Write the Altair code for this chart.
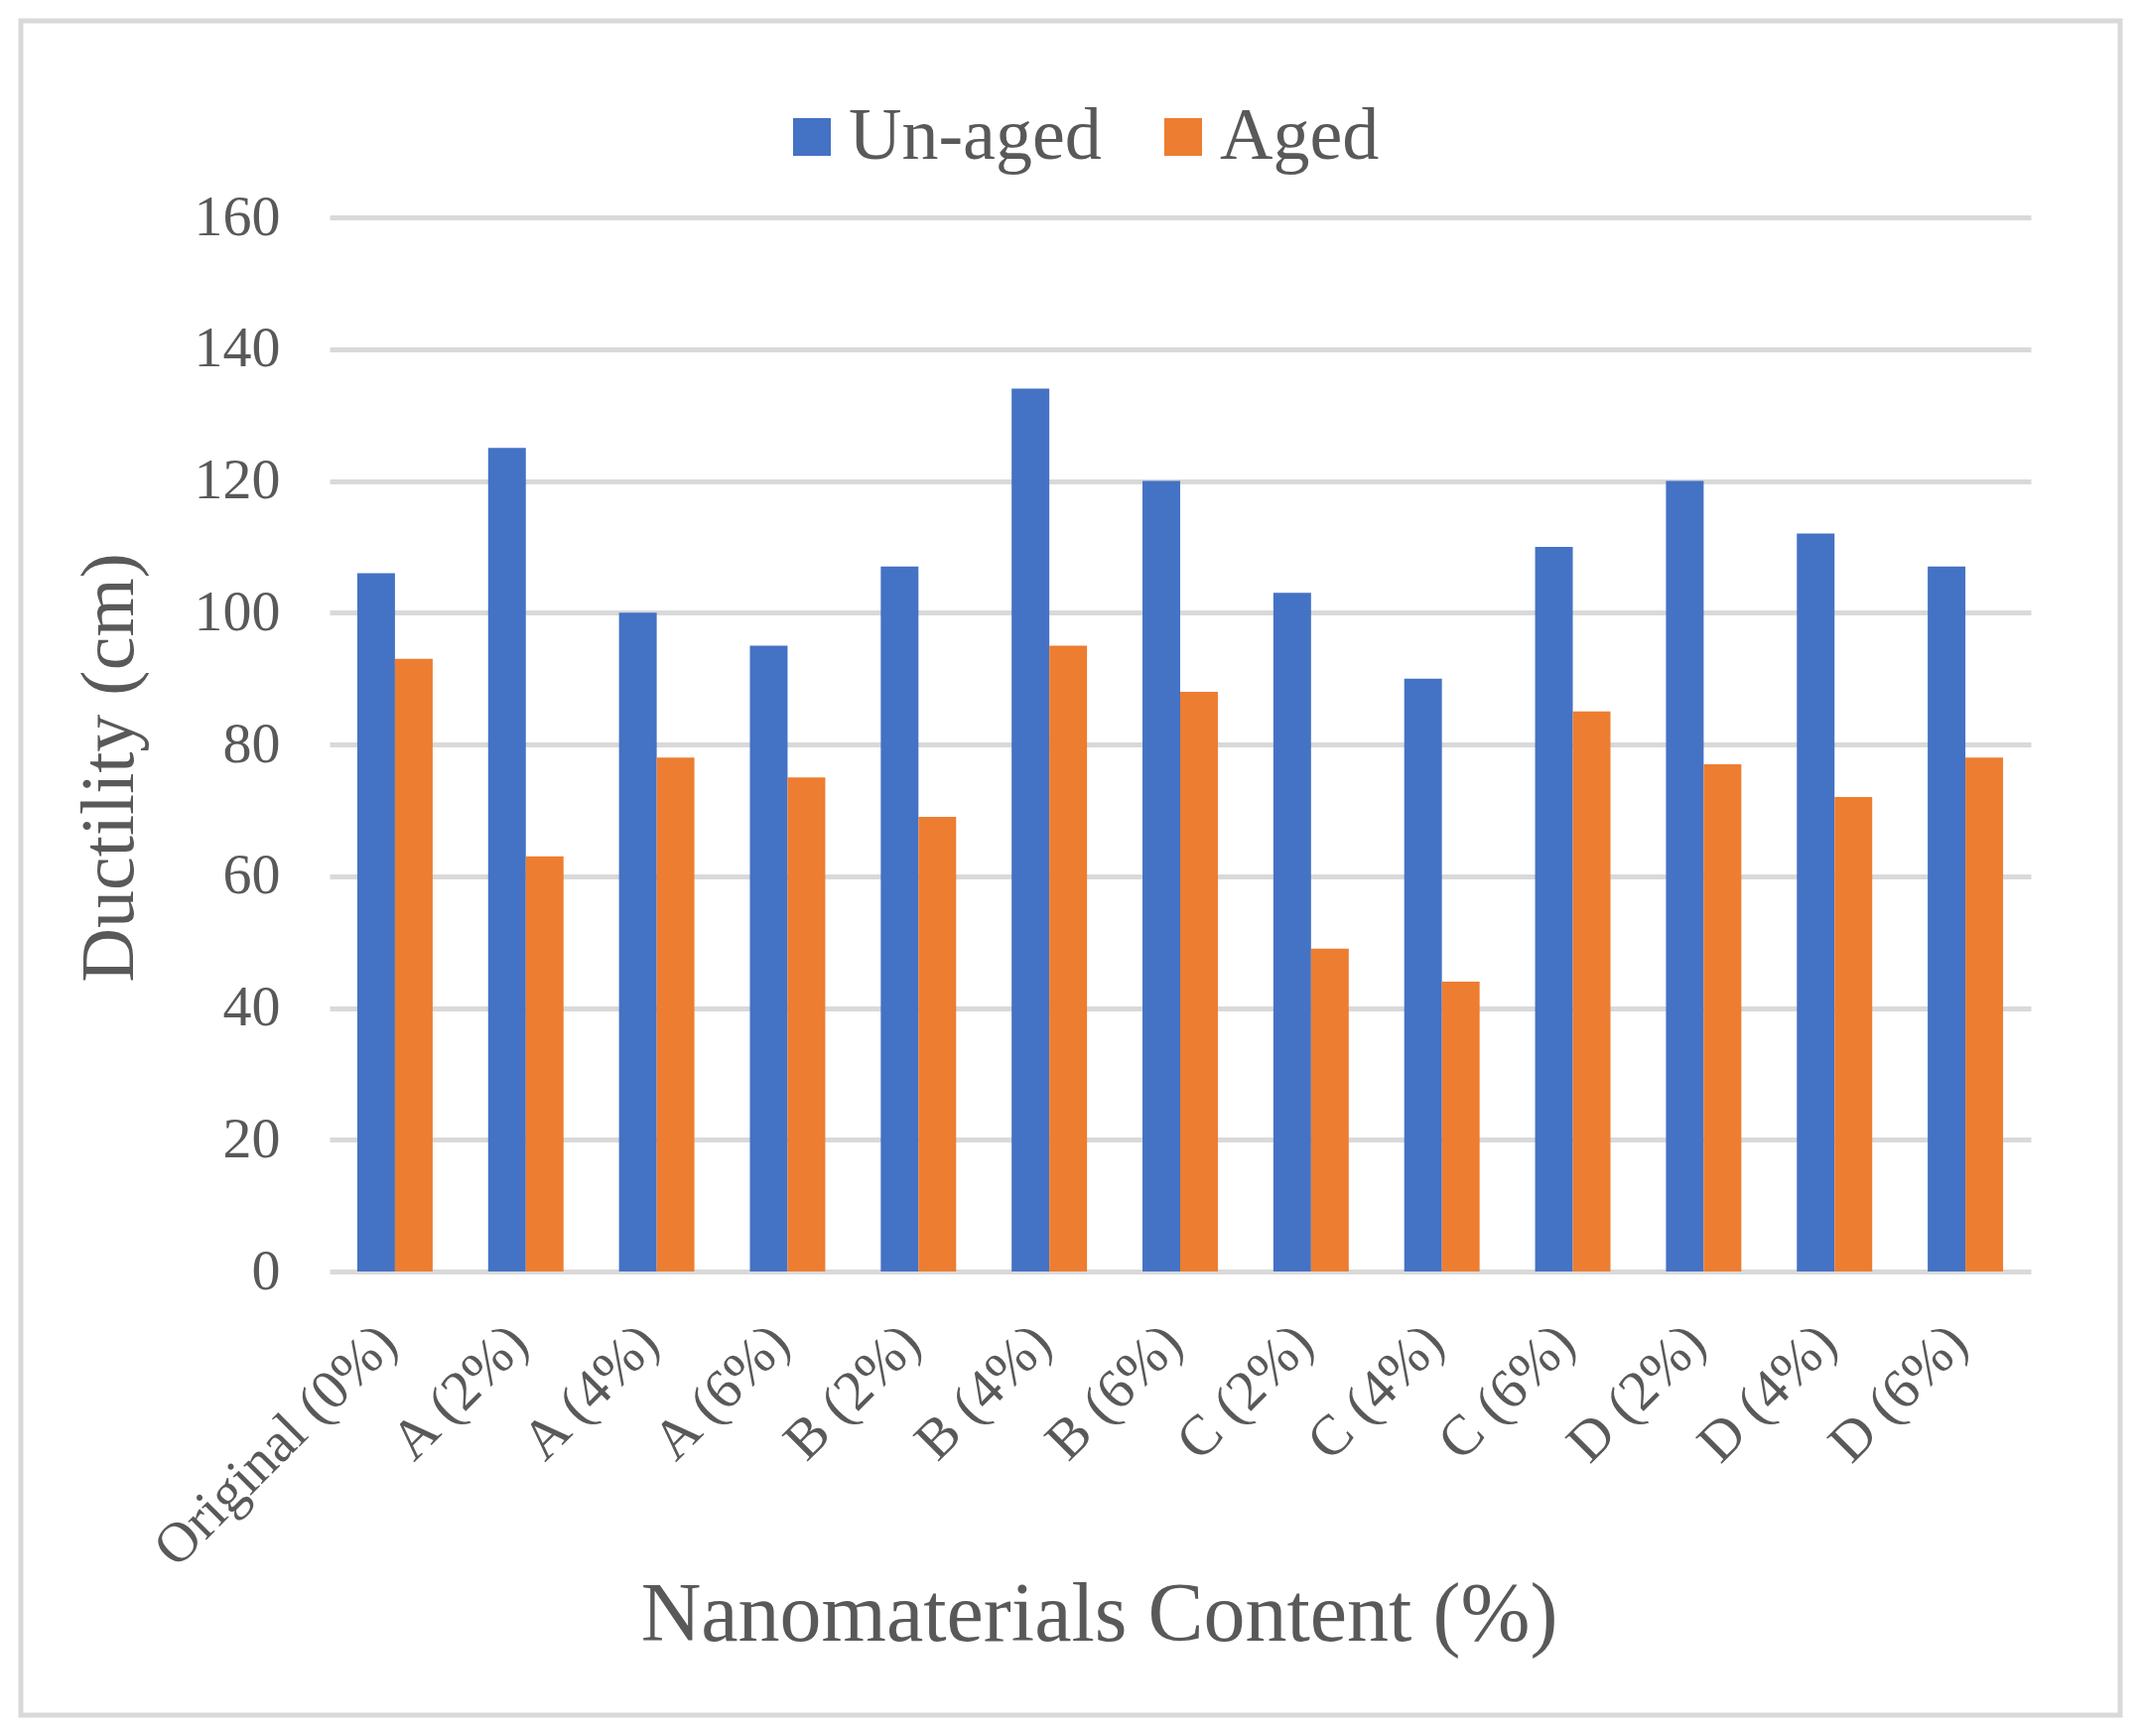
import altair as alt
import pandas as pd

categories = ["Original (0%)", "A (2%)", "A (4%)", "A (6%)", "B (2%)", "B (4%)",
              "B (6%)", "C (2%)", "C (4%)", "C (6%)", "D (2%)", "D (4%)", "D (6%)"]
unaged = [106, 125, 100, 95, 107, 134, 120, 103, 90, 110, 120, 112, 107]
aged = [93, 63, 78, 75, 69, 95, 88, 49, 44, 85, 77, 72, 78]
series = ["Un-aged", "Aged"]
colors = ["#4472C4", "#ED7D31"]
y_ticks = [0, 20, 40, 60, 80, 100, 120, 140, 160]

rows = []
for c, u, a in zip(categories, unaged, aged):
    rows.append({"Category": c, "Series": series[0], "Ductility": u})
    rows.append({"Category": c, "Series": series[1], "Ductility": a})
df = pd.DataFrame(rows)

FONT = "Liberation Serif"
TXT = "#595959"

bars = alt.Chart(df).mark_bar().encode(
    x=alt.X("Category:N", sort=categories,
            scale=alt.Scale(paddingInner=0.424, paddingOuter=0.212),
            axis=alt.Axis(title="Nanomaterials Content (%)", labelAngle=-45,
                          labelAlign="right", labelBaseline="top",
                          labelFont=FONT, labelFontSize=57, labelColor=TXT,
                          labelPadding=43, labelOffset=-27,
                          ticks=False, domain=False, grid=False,
                          titleFont=FONT, titleFontSize=84, titleColor=TXT,
                          titleFontWeight="normal", titleX=775, titleY=371,
                          titleAlign="center", titleBaseline="alphabetic",
                          labelLimit=1000)),
    xOffset=alt.XOffset("Series:N", sort=series),
    y=alt.Y("Ductility:Q", scale=alt.Scale(domain=[0, 160]),
            axis=alt.Axis(title="Ductility (cm)", values=y_ticks,
                          labelFont=FONT, labelFontSize=58, labelColor=TXT,
                          labelPadding=50, ticks=False, domain=False,
                          grid=True, gridColor="#d9d9d9", gridWidth=5,
                          titleFont=FONT, titleFontSize=76, titleColor=TXT,
                          titleFontWeight="normal", titleX=-199, titleY=554,
                          titleAlign="center", titleBaseline="alphabetic",
                          titleAngle=270)),
    color=alt.Color("Series:N", sort=series,
                    scale=alt.Scale(domain=series, range=colors),
                    legend=alt.Legend(title=None, orient="none", legendX=449,
                                      legendY=-118, direction="horizontal",
                                      symbolType="square", symbolSize=1444,
                                      symbolStrokeWidth=0, labelFont=FONT,
                                      labelFontSize=74, labelColor=TXT,
                                      labelOffset=0, columnPadding=45,
                                      labelLimit=1000)),
)

border = alt.Chart(pd.DataFrame({"a": [0]})).mark_rect(
    fillOpacity=0, stroke="#d9d9d9", strokeWidth=5
).encode(x=alt.value(-311), x2=alt.value(1804), y=alt.value(-198), y2=alt.value(1509))

chart = alt.layer(border, bars).properties(
    width=1714, height=1062,
    padding={"left": 324, "top": 211, "right": 104, "bottom": 460},
    autosize=alt.AutoSizeParams(type="none"),
    background="white",
).configure_view(stroke=None)

chart.save("out.html", embed_options={"renderer": "svg", "actions": False})
